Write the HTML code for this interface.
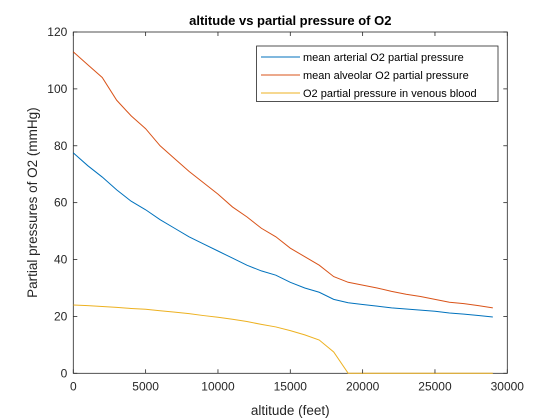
<!DOCTYPE html>
<html><head><meta charset="utf-8"><style>
html,body{margin:0;padding:0;background:#fff;}
svg{display:block;font-family:"Liberation Sans",Arial,sans-serif;}
</style></head><body>
<svg id="chart" width="560" height="420"></svg>
<script>
const altitudes=[0,1000,2000,3000,4000,5000,6000,7000,8000,9000,10000,11000,12000,13000,14000,15000,16000,17000,18000,19000,20000,21000,22000,23000,24000,25000,26000,27000,28000,29000];
const arterial=[77.5,73,69,64.5,60.5,57.5,54,51,48,45.5,43,40.5,38,36,34.5,32,30,28.5,26,24.8,24.2,23.6,23,22.6,22.2,21.8,21.2,20.8,20.3,19.8];
const alveolar=[113,108.5,104,96,90.5,86,80,75.5,71,67,63,58.5,55,51,48,44,41,38,34,32,31,30,28.8,27.8,27,26,25,24.5,23.8,23];
const venous=[24,23.8,23.5,23.2,22.8,22.5,22,21.5,21,20.3,19.7,19,18.2,17.2,16.3,15,13.5,11.7,7.5,0,0,0,0,0,0,0,0,0,0,0];
const xTicks=[0,5000,10000,15000,20000,25000,30000];
const yTicks=[0,20,40,60,80,100,120];
const seriesNames=["mean arterial O2 partial pressure","mean alveolar O2 partial pressure","O2 partial pressure in venous blood"];
const seriesColors=["#0072BD","#D95319","#EDB120"];
const seriesKeys=["series-arterial","series-alveolar","series-venous"];

const L=73.3,R=507.3,T=32,B=373.3;
const xs=v=>L+(v-0)/(30000)*(R-L);
const ys=v=>B-(v-0)/120*(B-T);
const svg=document.getElementById('chart');
const NS='http://www.w3.org/2000/svg';
function mk(tag,attrs,parent){const e=document.createElementNS(NS,tag);for(const k in attrs)e.setAttribute(k,attrs[k]);(parent||svg).appendChild(e);return e;}

const box=mk('rect',{x:L,y:T,width:R-L,height:B-T,fill:'#fff',stroke:'#262626','stroke-width':0.8});



[arterial,alveolar,venous].forEach((d,i)=>{
  const pts=altitudes.map((a,j)=>xs(a).toFixed(2)+','+ys(d[j]).toFixed(2)).join(' ');
  const pl=mk('polyline',{points:pts,fill:'none',stroke:seriesColors[i],'stroke-width':1});
  
  
});

xTicks.forEach(t=>{
  const x=xs(t);
  mk('line',{x1:x,x2:x,y1:B,y2:B-4,stroke:'#262626','stroke-width':0.8});
  mk('line',{x1:x,x2:x,y1:T,y2:T+4,stroke:'#262626','stroke-width':0.8});
  const tx=mk('text',{x:x,y:B+17,'text-anchor':'middle','font-size':12,fill:'#262626'});
  tx.textContent=t;
  
  
});
yTicks.forEach(t=>{
  const y=ys(t);
  mk('line',{x1:L,x2:L+4,y1:y,y2:y,stroke:'#262626','stroke-width':0.8});
  mk('line',{x1:R,x2:R-4,y1:y,y2:y,stroke:'#262626','stroke-width':0.8});
  const tx=mk('text',{x:L-6,y:y+4,'text-anchor':'end','font-size':12,fill:'#262626'});
  tx.textContent=t;
  
  
});

const title=mk('text',{x:(L+R)/2,y:25,'text-anchor':'middle','font-size':13,'font-weight':'bold',fill:'#000'});
title.textContent='altitude vs partial pressure of O2';


const xl=mk('text',{x:(L+R)/2,y:415,'text-anchor':'middle','font-size':13.5,fill:'#262626'});
xl.textContent='altitude (feet)';


const yl=mk('text',{x:0,y:0,'text-anchor':'middle','font-size':13.5,fill:'#262626',transform:'translate(37,'+((T+B)/2)+') rotate(-90)'});
yl.textContent='Partial pressures of O2 (mmHg)';



const lg=mk('g',{});


mk('rect',{x:256.6,y:46,width:241.4,height:55.6,fill:'#fff',stroke:'#262626','stroke-width':0.8},lg);
seriesNames.forEach((n,i)=>{
  const y=57+i*18;
  const g=mk('g',{},lg);
  
  
  mk('line',{x1:261,x2:300,y1:y,y2:y,stroke:seriesColors[i],'stroke-width':1},g);
  const t=mk('text',{x:303,y:y+4,'font-size':11,fill:'#000'},g);
  t.textContent=n;
});
</script>
</body></html>
